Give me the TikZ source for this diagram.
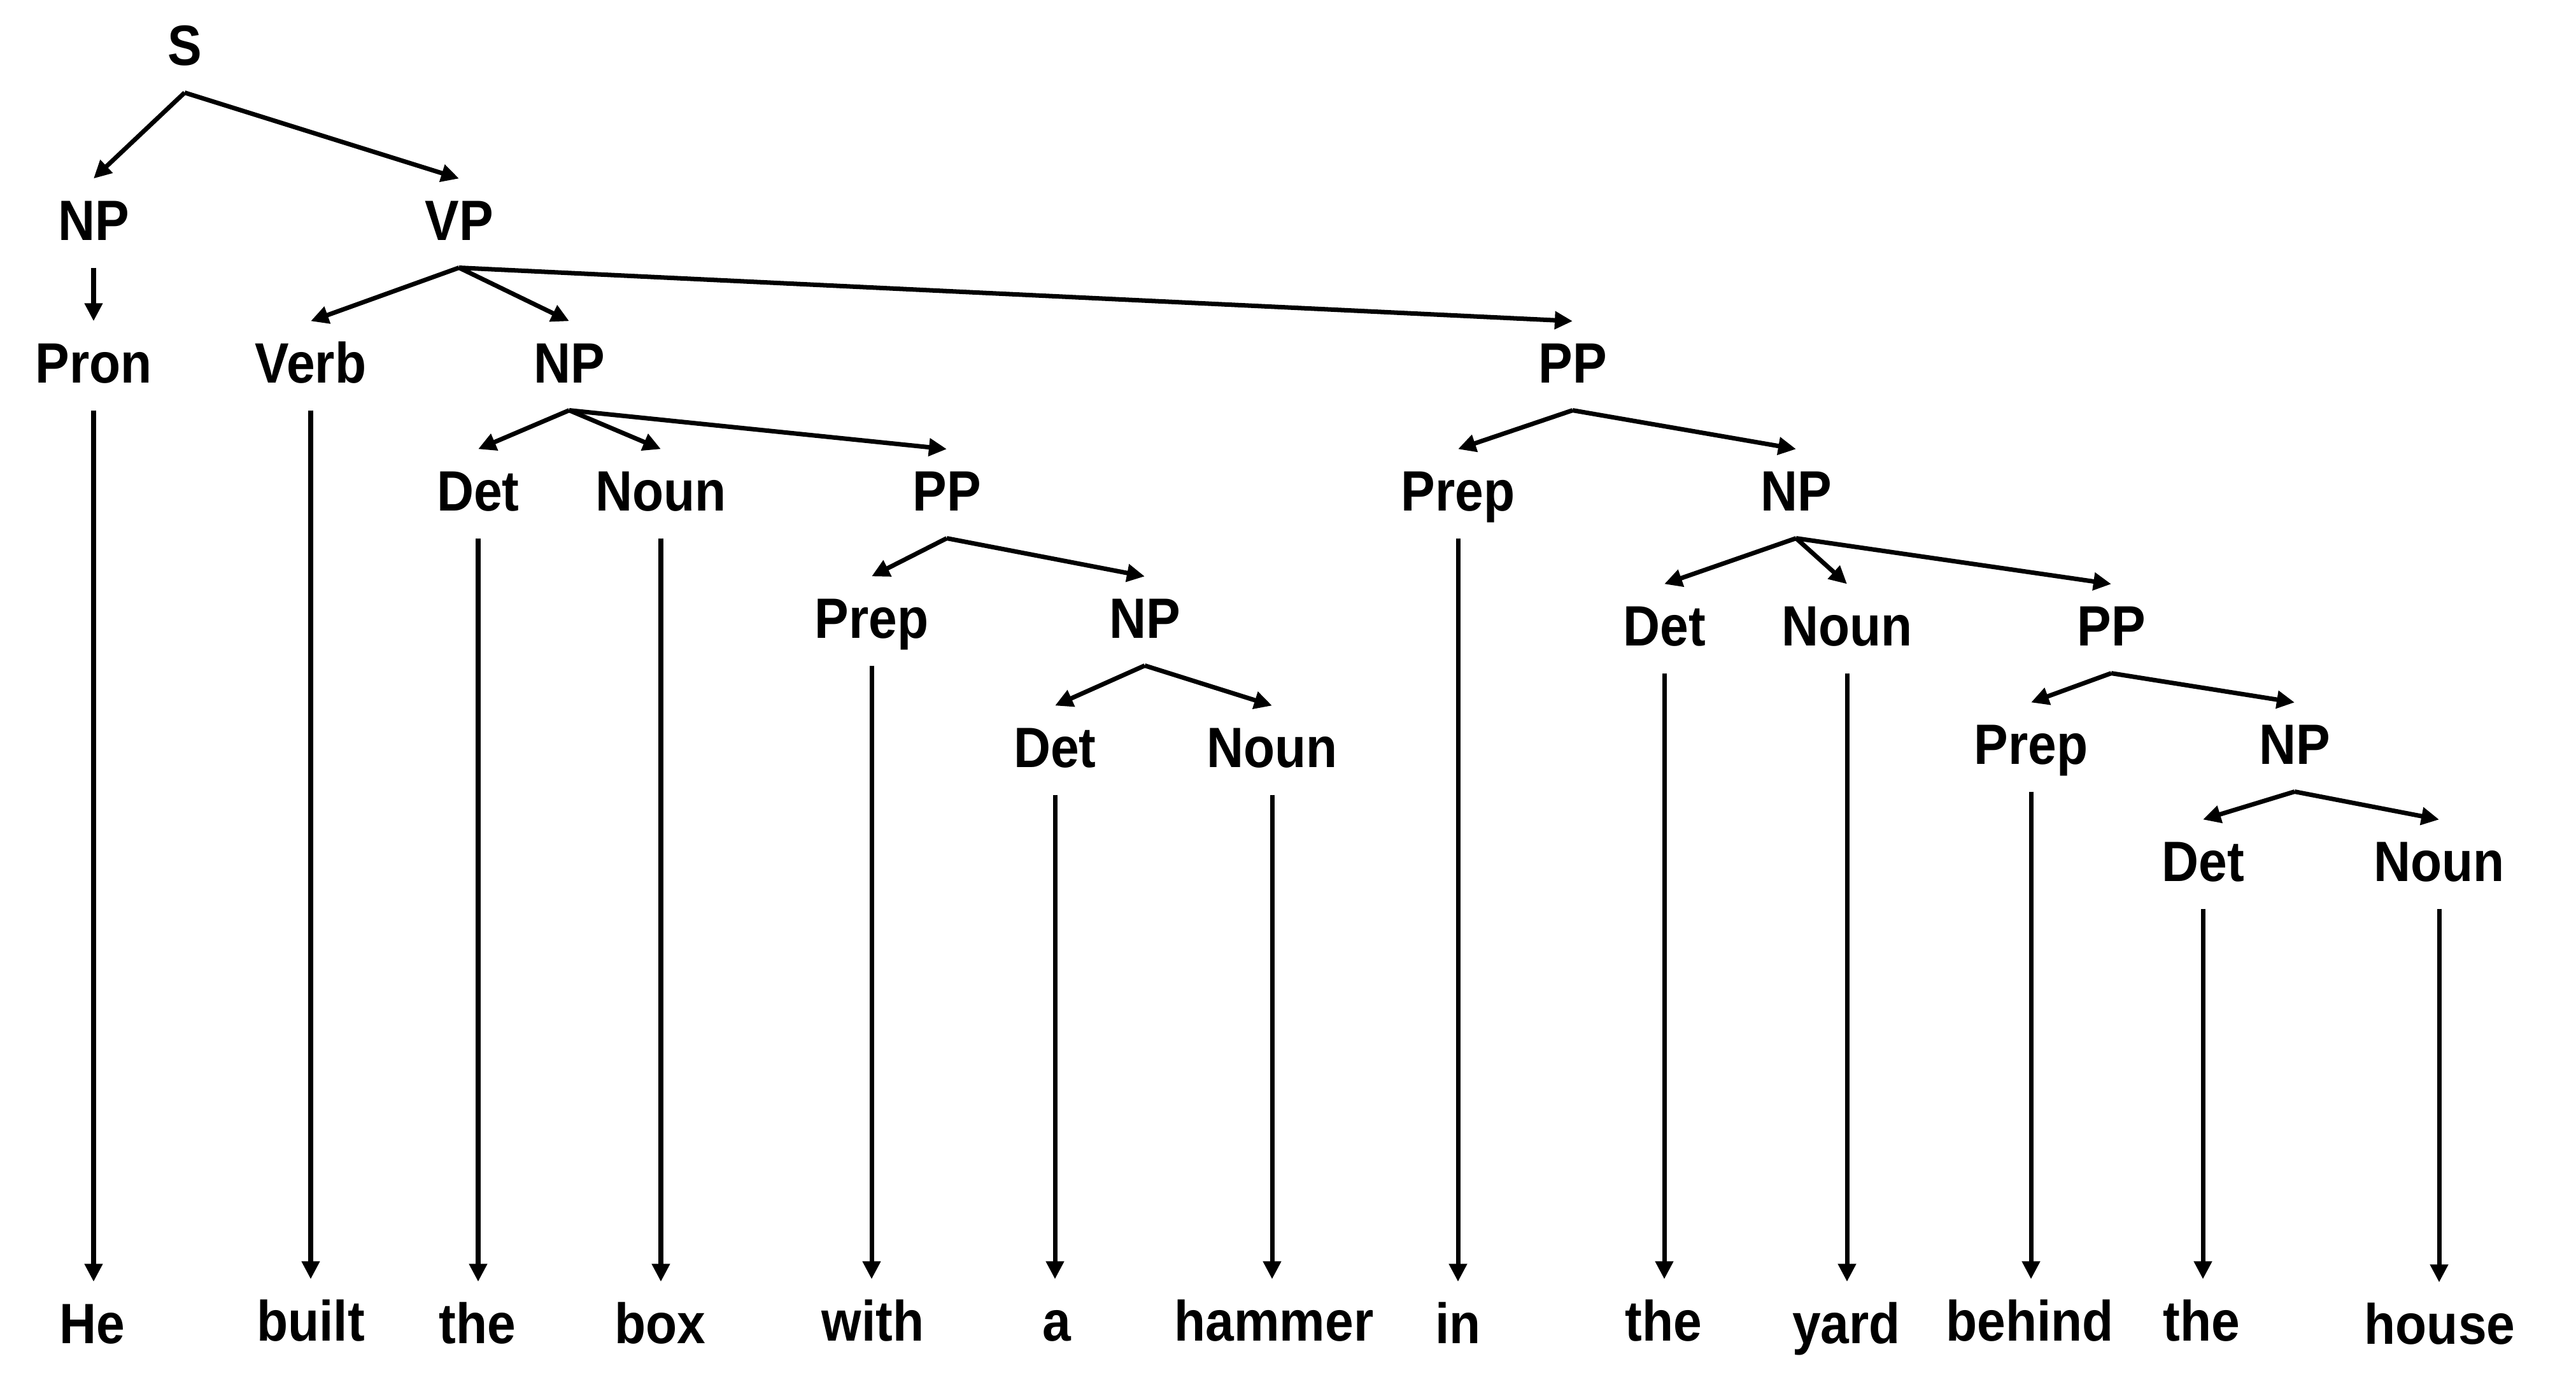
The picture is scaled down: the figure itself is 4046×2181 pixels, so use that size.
\documentclass[tikz,border=0pt]{standalone}
\usepackage{fontspec}
\setmainfont{Liberation Sans}[FakeStretch=0.9]
\usetikzlibrary{arrows.meta}

\begin{document}
\begin{tikzpicture}[x=0.01cm,y=-0.01cm,->,>={Triangle[length=0.28cm,width=0.27cm]},line width=2pt,
  cat/.style={anchor=base,font=\bfseries\fontsize{25.4}{30}\selectfont,text height=0.64cm,text depth=0.11cm,inner xsep=0pt,inner ysep=0.29cm}]

            \useasboundingbox (0,0) rectangle (4046,2181);

            \node[cat] (s) at (290,102) {S};
            \node[cat] (np1) at (147,377) {NP};
            \node[cat] (vp) at (721,377) {VP};
            \node[cat] (pron) at (147,601) {Pron};
            \node[cat] (verb) at (488,601) {Verb};
            \node[cat] (np2) at (894,601) {NP};
            \node[cat] (pp1) at (2470,601) {PP};
            \node[cat] (det1) at (751,802) {Det};
            \node[cat] (noun1) at (1038,802) {Noun};
            \node[cat] (pp2) at (1487,802) {PP};
            \node[cat] (prep1) at (2290,802) {Prep};
            \node[cat] (np3) at (2821,802) {NP};
            \node[cat] (prep2) at (1369,1002) {Prep};
            \node[cat] (np4) at (1798,1002) {NP};
            \node[cat] (det2) at (2614,1014) {Det};
            \node[cat] (noun2) at (2901,1014) {Noun};
            \node[cat] (pp3) at (3316,1014) {PP};
            \node[cat] (det3) at (1657,1205) {Det};
            \node[cat] (noun3) at (1998,1205) {Noun};
            \node[cat] (prep3) at (3190,1200) {Prep};
            \node[cat] (np5) at (3604,1200) {NP};
            \node[cat] (det4) at (3460,1384) {Det};
            \node[cat] (noun4) at (3831,1384) {Noun};

            % words
            \node[cat] (w1) at (145,2110) {He};
            \node[cat] (w2) at (488,2106) {built};
            \node[cat] (w3) at (750,2110) {the};
            \node[cat] (w4) at (1037,2110) {box};
            \node[cat] (w5) at (1371,2106) {with};
            \node[cat] (w6) at (1660,2106) {a};
            \node[cat] (w7) at (2001,2106) {hammer};
            \node[cat] (w8) at (2290,2110) {in};
            \node[cat] (w9) at (2613,2106) {the};
            \node[cat] (w10) at (2900,2110) {yard};
            \node[cat] (w11) at (3188,2106) {behind};
            \node[cat] (w12) at (3458,2106) {the};
            \node[cat] (w13) at (3832,2111) {house};

            \draw (s.south) to (np1.north);
            \draw (s.south) to (vp.north);
            \draw (np1.south) to (pron.north);
            \draw (vp.south) to (verb.north);
            \draw (vp.south) to (np2.north);
            \draw (vp.south) to (pp1.north);
            \draw (np2.south) to (det1.north);
            \draw (np2.south) to (noun1.north);
            \draw (np2.south) to (pp2.north);
            \draw (pp1.south) to (prep1.north);
            \draw (pp1.south) to (np3.north);
            \draw (pp2.south) to (prep2.north);
            \draw (pp2.south) to (np4.north);
            \draw (np3.south) to (det2.north);
            \draw (np3.south) to (noun2.north);
            \draw (np3.south) to (pp3.north);
            \draw (np4.south) to (det3.north);
            \draw (np4.south) to (noun3.north);
            \draw (pp3.south) to (prep3.north);
            \draw (pp3.south) to (np5.north);
            \draw (np5.south) to (det4.north);
            \draw (np5.south) to (noun4.north);

            % down to the words
            \draw (pron.south) to (pron.south |- w1.north);
            \draw (verb.south) to (verb.south |- w2.north);
            \draw (det1.south) to (det1.south |- w3.north);
            \draw (noun1.south) to (noun1.south |- w4.north);
            \draw (prep2.south) to (prep2.south |- w5.north);
            \draw (det3.south) to (det3.south |- w6.north);
            \draw (noun3.south) to (noun3.south |- w7.north);
            \draw (prep1.south) to (prep1.south |- w8.north);
            \draw (det2.south) to (det2.south |- w9.north);
            \draw (noun2.south) to (noun2.south |- w10.north);
            \draw (prep3.south) to (prep3.south |- w11.north);
            \draw (det4.south) to (det4.south |- w12.north);
            \draw (noun4.south) to (noun4.south |- w13.north);

        \end{tikzpicture}
\end{document}
